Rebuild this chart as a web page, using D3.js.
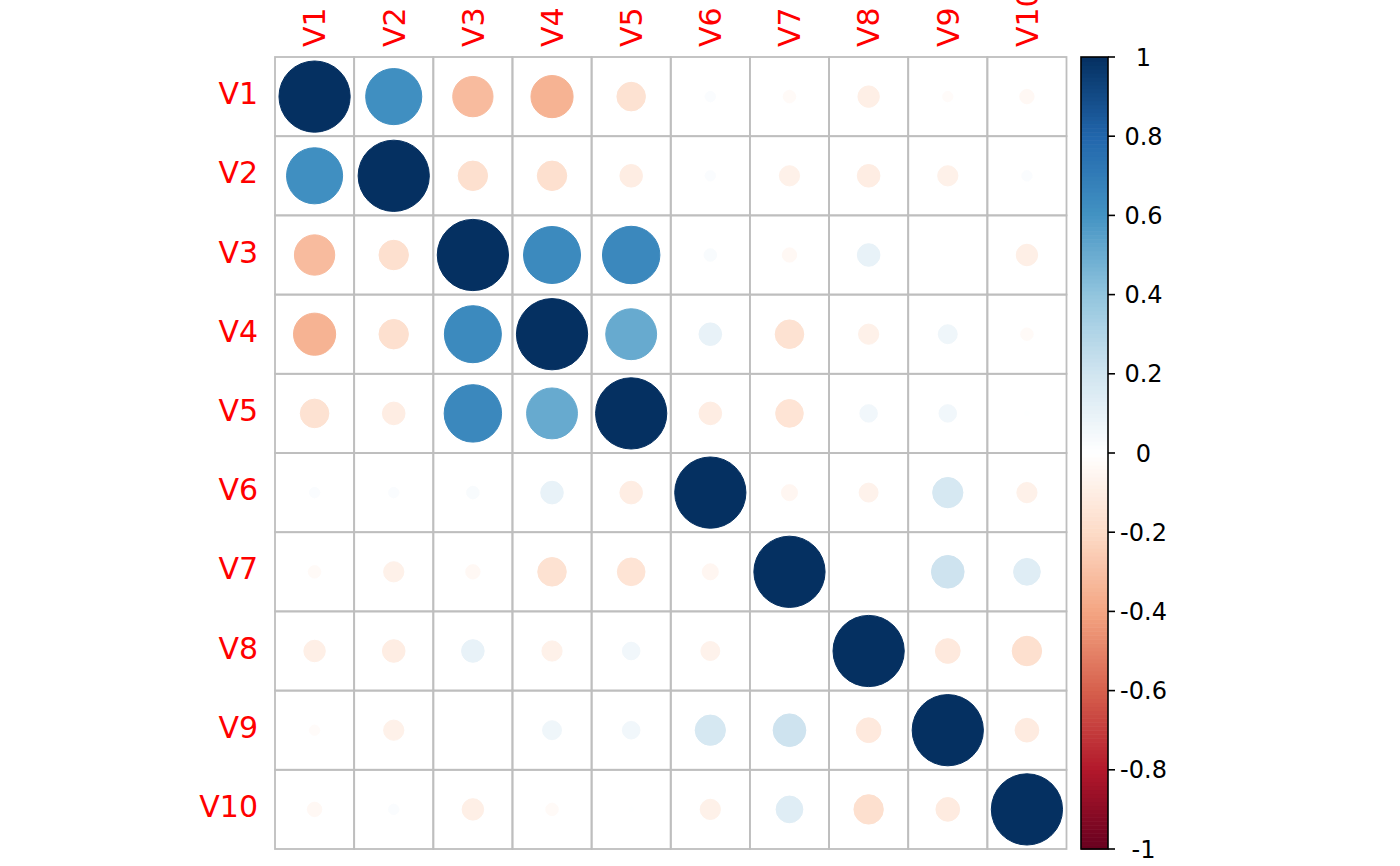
<!DOCTYPE html>
<html>
<head>
<meta charset="utf-8">
<script src="https://cdn.jsdelivr.net/npm/d3@7"></script>
<style>
  html, body { margin: 0; padding: 0; background: #ffffff; }
  svg { display: block; }
  text { font-family: "DejaVu Sans", sans-serif; }
</style>
</head>
<body>
<svg id="chart" width="1400" height="866"></svg>
<script>
// ---- data ----
const variables = ["V1", "V2", "V3", "V4", "V5", "V6", "V7", "V8", "V9", "V10"];
const rowV1  = [1, 0.62, -0.32, -0.35, -0.16, 0.02, -0.03, -0.09, -0.02, -0.04];
const rowV2  = [0.62, 1, -0.17, -0.17, -0.10, 0.02, -0.08, -0.10, -0.08, 0.02];
const rowV3  = [-0.32, -0.17, 1, 0.64, 0.65, 0.03, -0.04, 0.10, 0.00, -0.09];
const rowV4  = [-0.35, -0.17, 0.64, 1, 0.51, 0.10, -0.16, -0.08, 0.07, -0.03];
const rowV5  = [-0.16, -0.10, 0.65, 0.51, 1, -0.10, -0.15, 0.06, 0.06, 0.003];
const rowV6  = [0.02, 0.02, 0.03, 0.10, -0.10, 1, -0.05, -0.07, 0.18, -0.08];
const rowV7  = [-0.03, -0.08, -0.04, -0.16, -0.15, -0.05, 1, 0.00, 0.21, 0.14];
const rowV8  = [-0.09, -0.10, 0.10, -0.08, 0.06, -0.07, 0.00, 1, -0.12, -0.17];
const rowV9  = [-0.02, -0.08, 0.00, 0.07, 0.06, 0.18, 0.21, -0.12, 1, -0.11];
const rowV10 = [-0.04, 0.02, -0.09, -0.03, 0.003, -0.08, 0.14, -0.17, -0.11, 1];
const corrRows = [rowV1, rowV2, rowV3, rowV4, rowV5, rowV6, rowV7, rowV8, rowV9, rowV10];
const legendTicks = [-1, -0.8, -0.6, -0.4, -0.2, 0, 0.2, 0.4, 0.6, 0.8, 1];
const legendLabels = ["-1", "-0.8", "-0.6", "-0.4", "-0.2", "0", "0.2", "0.4", "0.6", "0.8", "1"];
const paletteStops = ["#67001F", "#B2182B", "#D6604D", "#F4A582", "#FDDBC7", "#FFFFFF",
                      "#D1E5F0", "#92C5DE", "#4393C3", "#2166AC", "#053061"];

// ---- layout ----
const svg = d3.select("#chart");
const gridLeft = 275, gridRight = 1066.5, gridTop = 57, gridBottom = 849;

const x = d3.scaleBand().domain(variables).range([gridLeft, gridRight]).padding(0);
const y = d3.scaleBand().domain(variables).range([gridTop, gridBottom]).padding(0);
const color = d3.scaleLinear()
  .domain(d3.range(paletteStops.length).map(i => -1 + 2 * i / (paletteStops.length - 1)))
  .range(paletteStops)
  .interpolate(d3.interpolateRgb);

const cells = [];
corrRows.forEach((row, i) => row.forEach((v, j) => cells.push({ r: variables[i], c: variables[j], v })));

// grid cells
const gridG = svg.append("g");
gridG.selectAll("rect").data(cells).join("rect")
  .attr("x", d => x(d.c)).attr("y", d => y(d.r))
  .attr("width", x.bandwidth()).attr("height", y.bandwidth())
  .attr("fill", "none").attr("stroke", "#BEBEBE").attr("stroke-width", 1.8);

// circles
const rMax = 0.45 * x.bandwidth();
svg.append("g").selectAll("circle").data(cells).join("circle")
  .attr("cx", d => x(d.c) + x.bandwidth() / 2)
  .attr("cy", d => y(d.r) + y.bandwidth() / 2)
  .attr("r", d => rMax * Math.sqrt(Math.abs(d.v)))
  .attr("fill", d => color(d.v))
  .attr("stroke", d => color(d.v))
  .attr("stroke-width", 1);

// row labels
svg.append("g").selectAll("text").data(variables).join("text")
  .attr("x", 258)
  .attr("y", d => y(d) + y.bandwidth() / 2 + 7.5)
  .attr("text-anchor", "end")
  .attr("fill", "#FF0000")
  .attr("font-size", 30)
  .text(d => d);

// column labels (rotated)
svg.append("g").selectAll("text").data(variables).join("text")
  .attr("transform", d => `translate(${x(d) + x.bandwidth() / 2 + 10.8},47) rotate(-90)`)
  .attr("text-anchor", "start")
  .attr("fill", "#FF0000")
  .attr("font-size", 30)
  .text(d => d);

// colour legend
const legX0 = 1081, legX1 = 1108;
const ly = d3.scaleLinear().domain([-1, 1]).range([gridBottom, gridTop]);
const nSlices = 200;
const slices = d3.range(nSlices).map(i => -1 + (i + 0.5) * 2 / nSlices);
svg.append("g").selectAll("rect").data(slices).join("rect")
  .attr("x", legX0)
  .attr("y", d => ly(d + 1 / nSlices))
  .attr("width", legX1 - legX0)
  .attr("height", (gridBottom - gridTop) / nSlices + 0.6)
  .attr("fill", d => color(d));
svg.append("rect")
  .attr("x", legX0).attr("y", gridTop)
  .attr("width", legX1 - legX0).attr("height", gridBottom - gridTop)
  .attr("fill", "none").attr("stroke", "#000").attr("stroke-width", 1.6);

const legTickG = svg.append("g");
legTickG.selectAll("line").data(legendTicks).join("line")
  .attr("x1", legX1).attr("x2", 1115)
  .attr("y1", d => ly(d)).attr("y2", d => ly(d))
  .attr("stroke", "#000").attr("stroke-width", 1.6);
legTickG.selectAll("text").data(legendTicks).join("text")
  .attr("x", 1143.5)
  .attr("y", d => ly(d) + 8.6)
  .attr("text-anchor", "middle")
  .attr("fill", "#000")
  .attr("font-size", 24)
  .text((d, i) => legendLabels[i]);
</script>
</body>
</html>
